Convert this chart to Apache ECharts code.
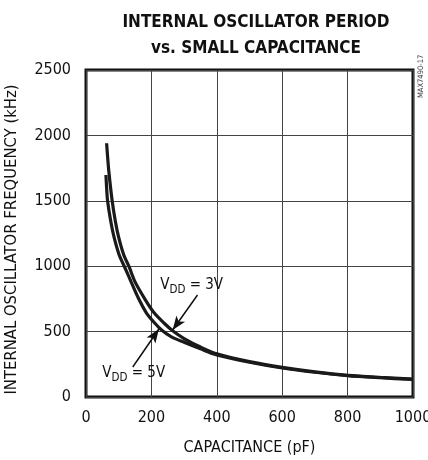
<!DOCTYPE html>
<html>
<head>
<meta charset="utf-8">
<script src="https://cdn.jsdelivr.net/npm/echarts@6/dist/echarts.min.js"></script>
<style>
html,body{margin:0;padding:0;background:#fff;}
#c{width:428px;height:460px;}
</style>
</head>
<body>
<div id="c"></div>
<script>
// Capacitance (pF) and frequency (kHz)
const cap3V  = [63, 66, 70, 80, 90, 100, 115, 132, 150, 181, 207, 240, 268, 300, 350, 400, 500, 600, 700, 800, 900, 1000];
const freq3V = [1940, 1840, 1720, 1500, 1340, 1220, 1090, 994, 880, 745, 648, 562, 500, 447, 382, 330, 270, 226, 192, 166, 150, 137];
const cap5V  = [61, 63, 66, 76, 86, 101, 118, 138, 160, 185, 210, 233, 260, 300, 350, 400, 500, 600, 700, 800, 900, 1000];
const freq5V = [1697, 1600, 1500, 1340, 1220, 1090, 994, 880, 757, 642, 566, 508, 462, 418, 368, 322, 266, 222, 189, 163, 147, 134];
const xTicks = [0, 200, 400, 600, 800, 1000];
const yTicks = [0, 500, 1000, 1500, 2000, 2500];
const titleLines = ['INTERNAL OSCILLATOR PERIOD', 'vs. SMALL CAPACITANCE'];
const xName = 'CAPACITANCE (pF)';
const yName = 'INTERNAL OSCILLATOR FREQUENCY (kHz)';
const figId = 'MAX7490-17';
// annotations: [label coord, arrow start, arrow tip]
const ann3V = {text: 'V{s|DD} = 3V', at: [323, 856], from: [341, 780], to: [265, 512]};
const ann5V = {text: 'V{s|DD} = 5V', at: [146, 183], from: [143, 229], to: [223, 520]};

const FONT = '"Liberation Sans Narrow", "DejaVu Sans Condensed", "Liberation Sans", sans-serif';
const pairs = (xs, ys) => xs.map((x, i) => [x, ys[i]]);

const chart = echarts.init(document.getElementById('c'), null, {renderer: 'canvas'});
const lineStyle = {color: '#1a1a1a', width: 3.2};
const rich = {s: {fontSize: 11.5, fontFamily: FONT, color: '#111', padding: [9, 0, 0, 0]}};
function labelPoint(a) {
  return {
    coord: a.at, symbol: 'rect', symbolSize: 1, itemStyle: {color: 'rgba(0,0,0,0)'},
    label: {show: true, position: 'inside', formatter: a.text, color: '#111', fontSize: 15, fontFamily: FONT, rich: rich}
  };
}
chart.setOption({
  animation: false,
  backgroundColor: '#fff',
  title: {
    text: titleLines.join('\n'),
    left: 251, textAlign: 'center', top: 5,
    textStyle: {fontFamily: FONT, fontWeight: 'bold', fontSize: 17, lineHeight: 26, color: '#111'}
  },
  grid: {left: 86, right: 15, top: 70, bottom: 63, show: true, borderColor: '#111', borderWidth: 3,
         backgroundColor: 'transparent', outerBoundsMode: 'none', containLabel: false},
  xAxis: {
    type: 'value', min: xTicks[0], max: xTicks[xTicks.length - 1], interval: 200,
    name: xName, nameLocation: 'middle', nameGap: 43,
    nameTextStyle: {fontFamily: FONT, fontSize: 16, color: '#111'},
    axisLine: {show: false}, axisTick: {show: false},
    axisLabel: {fontFamily: FONT, fontSize: 16, color: '#111', margin: 13, showMaxLabel: true,
                formatter: v => String(v)},
    splitLine: {show: true, lineStyle: {color: '#444', width: 1}}
  },
  yAxis: {
    type: 'value', min: yTicks[0], max: yTicks[yTicks.length - 1], interval: 500,
    name: yName, nameLocation: 'middle', nameGap: 66, nameRotate: 90,
    nameTextStyle: {fontFamily: FONT, fontSize: 16.5, color: '#111', padding: [0, 0, 0, -12]},
    axisLine: {show: false}, axisTick: {show: false},
    axisLabel: {fontFamily: FONT, fontSize: 16, color: '#111', margin: 15, formatter: v => String(v)},
    splitLine: {show: true, lineStyle: {color: '#444', width: 1}}
  },
  graphic: [{
    type: 'text', x: 421, y: 98, rotation: Math.PI / 2,
    style: {text: figId, fontFamily: FONT, fontSize: 7.5, fill: '#333', textAlign: 'left', textVerticalAlign: 'middle'}
  }],
  series: [
    {
      name: '3V', type: 'line', data: pairs(cap3V, freq3V), smooth: 0.3, showSymbol: false,
      lineStyle: lineStyle, z: 3,
      markLine: {
        silent: true, symbol: ['none', 'arrow'], symbolSize: [8, 14],
        lineStyle: {color: '#111', width: 1.5, type: 'solid'}, label: {show: false},
        data: [[{coord: ann3V.from}, {coord: ann3V.to}], [{coord: ann5V.from}, {coord: ann5V.to}]]
      },
      markPoint: {silent: true, data: [labelPoint(ann3V), labelPoint(ann5V)]}
    },
    {
      name: '5V', type: 'line', data: pairs(cap5V, freq5V), smooth: 0.3, showSymbol: false,
      lineStyle: lineStyle, z: 3
    }
  ]
});
</script>
</body>
</html>
